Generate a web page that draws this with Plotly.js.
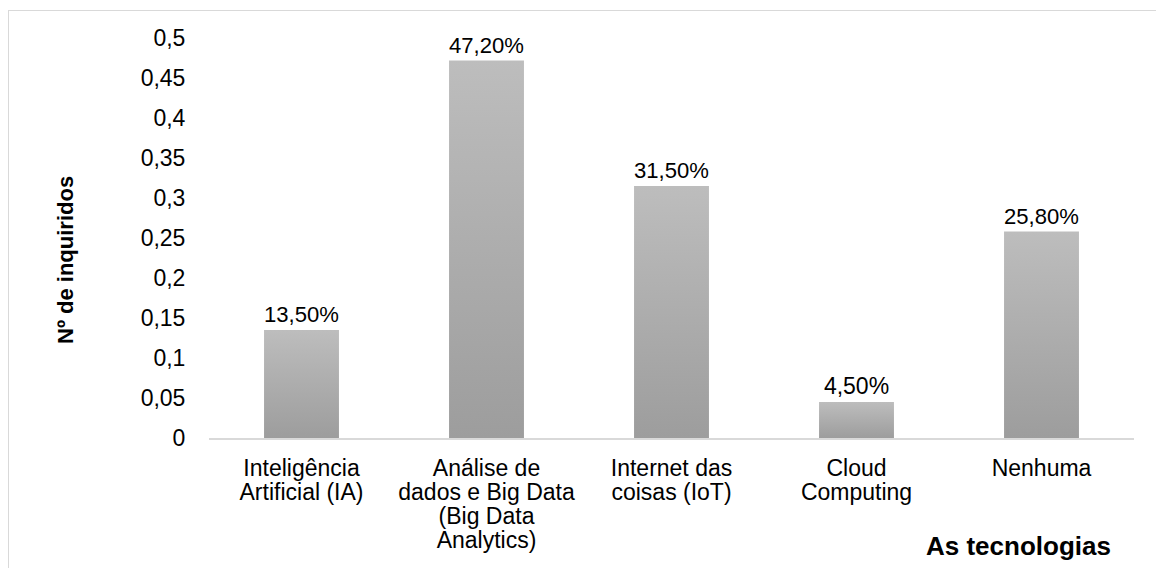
<!DOCTYPE html>
<html>
<head>
<meta charset="utf-8">
<script src="https://cdn.plot.ly/plotly-3.0.1.min.js"></script>
<style>
  html, body { margin: 0; padding: 0; background: #ffffff; }
  #frame {
    position: absolute; left: 8px; top: 10px;
    width: 1148px; height: 558px;
    border-left: 1px solid #d9d9d9; border-top: 1px solid #d9d9d9;
    box-sizing: border-box;
  }
  #chart { width: 100%; height: 100%; }
</style>
</head>
<body>
<div id="frame"><div id="chart"></div></div>
<script>
// Share of respondents per technology
const categories = [
  'Inteligência<br>Artificial (IA)',
  'Análise de<br>dados e Big Data<br>(Big Data<br>Analytics)',
  'Internet das<br>coisas (IoT)',
  'Cloud<br>Computing',
  'Nenhuma'
];
const shares = [0.135, 0.472, 0.315, 0.045, 0.258];
const yTicks = [0, 0.05, 0.1, 0.15, 0.2, 0.25, 0.3, 0.35, 0.4, 0.45, 0.5];

const FONT = 'Liberation Sans, Arial, sans-serif';
const SIZE = 23;

const trace = {
  type: 'bar',
  x: categories,
  y: shares,
  marker: { color: '#adadad', line: { width: 0 } },
  texttemplate: '%{y:.2%}',
  textposition: 'outside',
  cliponaxis: false,
  textfont: { family: FONT, size: SIZE, color: '#000000' },
  hoverinfo: 'skip'
};

const layout = {
  width: 1148,
  height: 558,
  margin: { l: 200, r: 23, t: 27, b: 131 },
  paper_bgcolor: '#ffffff',
  plot_bgcolor: '#ffffff',
  separators: ',.',
  bargap: 0.595,
  showlegend: false,
  font: { family: FONT, size: SIZE, color: '#000000' },
  xaxis: {
    type: 'category',
    showgrid: false,
    zeroline: false,
    showline: true,
    linecolor: '#d9d9d9',
    linewidth: 2,
    ticks: 'outside',
    ticklen: 8,
    tickcolor: 'rgba(0,0,0,0)',
    tickfont: { family: FONT, size: SIZE, color: '#000000' },
    fixedrange: true
  },
  yaxis: {
    range: [0, 0.5],
    tickvals: yTicks,
    showgrid: false,
    zeroline: false,
    showline: false,
    ticks: 'outside',
    ticklen: 18,
    tickcolor: 'rgba(0,0,0,0)',
    tickfont: { family: FONT, size: SIZE, color: '#000000' },
    automargin: false,
    fixedrange: true
  },
  annotations: [
    {
      // vertical axis title
      text: '<b>Nº de inquiridos</b>',
      xref: 'paper', yref: 'paper',
      x: 0, y: 0.445,
      xanchor: 'center', yanchor: 'middle',
      xshift: -143,
      textangle: -90,
      showarrow: false,
      font: { family: FONT, size: 22, color: '#000000' }
    },
    {
      // horizontal axis title, right-aligned under the last category
      text: '<b>As tecnologias</b>',
      xref: 'paper', yref: 'paper',
      x: 1.0, y: 0,
      xanchor: 'right', yanchor: 'middle',
      xshift: -21,
      yshift: -108,
      showarrow: false,
      font: { family: FONT, size: 26, color: '#000000' }
    }
  ]
};

Plotly.newPlot('chart', [trace], layout, { displayModeBar: false, staticPlot: true }).then(function (gd) {
  // Tighter line spacing inside the wrapped category labels
  // (each line's dy is measured from the first line, in multiples of 1.3em)
  gd.querySelectorAll('.xtick text tspan.line').forEach(function (t) {
    const dy = parseFloat(t.getAttribute('dy'));
    if (dy > 0) t.setAttribute('dy', (dy / 1.3 * 1.05).toFixed(3) + 'em');
  });

  // Vertical light-to-dark fill on each bar
  const svg = gd.querySelector('svg.main-svg');
  const ns = 'http://www.w3.org/2000/svg';
  let defs = svg.querySelector('defs');
  if (!defs) { defs = document.createElementNS(ns, 'defs'); svg.insertBefore(defs, svg.firstChild); }
  const grad = document.createElementNS(ns, 'linearGradient');
  grad.setAttribute('id', 'barShade');
  grad.setAttribute('x1', '0'); grad.setAttribute('y1', '0');
  grad.setAttribute('x2', '0'); grad.setAttribute('y2', '1');
  [['0', '#bdbdbd'], ['1', '#9d9d9d']].forEach(function (s) {
    const stop = document.createElementNS(ns, 'stop');
    stop.setAttribute('offset', s[0]);
    stop.setAttribute('stop-color', s[1]);
    grad.appendChild(stop);
  });
  defs.appendChild(grad);
  gd.querySelectorAll('.barlayer .point path').forEach(function (p) {
    p.style.fill = 'url(#barShade)';
  });
});
</script>
</body>
</html>
